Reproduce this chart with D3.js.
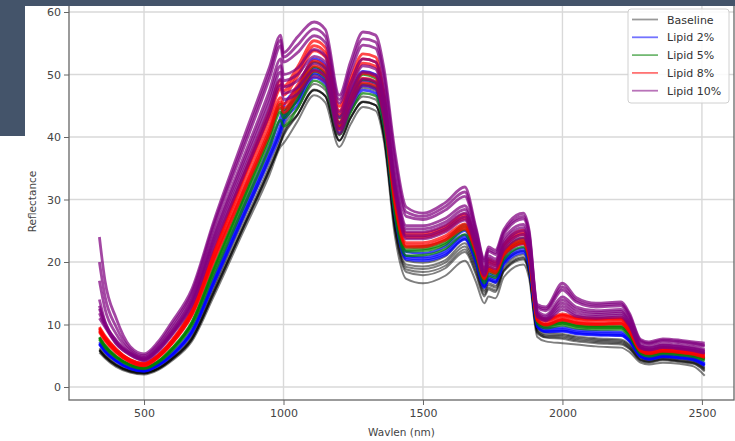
<!DOCTYPE html>
<html>
<head>
<meta charset="utf-8">
<script src="https://cdn.jsdelivr.net/npm/d3@7/dist/d3.min.js"></script>
<style>
  html, body { margin: 0; padding: 0; background: #ffffff; }
  svg { display: block; }
  text { font-family: "DejaVu Sans", sans-serif; }
</style>
</head>
<body>
<svg id="chart" width="735" height="441"></svg>
<script>
// Wavelength grid (nm) shared by every spectrum
const wavelengths = [
  340, 360, 400, 450, 500, 550, 600, 670, 750, 850,
  950, 990, 1000, 1050, 1110, 1150, 1200, 1240, 1285, 1330,
  1360, 1400, 1440, 1500, 1580, 1650, 1690, 1720, 1735, 1760,
  1790, 1860, 1880, 1910, 1940, 2000, 2050, 2120, 2210, 2240,
  2280, 2310, 2360, 2420, 2470, 2510
];

// Reflectance spectra, one array per sample
const baselineSpectra = [
  [5.5,4.6,3.2,2.3,2.0,2.7,4.2,7.2,14.5,24.3,
   34.0,38.5,39.0,42.5,46.7,45.5,38.4,42.0,44.8,44.2,
   39.3,24.0,17.3,16.6,17.8,20.2,16.8,13.4,14.5,14.2,
   17.6,19.6,17.5,8.0,7.3,7.0,6.8,6.5,6.3,5.6,
   3.9,3.6,3.9,3.7,3.3,1.8],
  [5.8,4.8,3.4,2.45,2.15,2.85,4.4,7.5,15.0,24.9,
   34.8,39.2,40.2,43.5,47.6,46.5,39.4,43.0,45.7,45.1,
   40.2,25.0,18.4,17.9,19.0,21.6,18.0,14.5,15.6,15.2,
   18.5,20.4,18.2,8.6,7.9,7.7,7.3,7.0,6.8,6.1,
   4.2,3.9,4.3,4.0,3.7,2.5],
  [5.85,4.85,3.45,2.5,2.2,2.9,4.45,7.55,15.1,24.95,
   34.8,39.2,40.4,43.5,47.5,46.5,39.4,43.0,45.6,45.1,
   40.2,25.2,18.8,18.4,19.4,22.0,18.4,14.8,15.9,15.5,
   18.6,20.6,18.4,8.8,8.0,7.9,7.5,7.2,7.0,6.2,
   4.3,4.0,4.4,4.1,3.8,2.7],
  [5.9,4.9,3.5,2.55,2.25,2.95,4.5,7.6,15.2,25.0,
   34.8,39.2,40.7,43.6,47.5,46.6,39.5,43.1,45.6,45.1,
   40.2,25.5,19.2,18.9,19.9,22.5,18.9,15.2,16.3,15.9,
   18.8,20.8,18.6,9.0,8.2,8.1,7.7,7.4,7.2,6.4,
   4.4,4.1,4.5,4.2,3.9,2.9],
  [6.0,5.0,3.6,2.6,2.3,3.0,4.6,7.8,15.5,25.5,
   35.5,40.0,41.5,44.5,48.5,47.5,40.3,44.0,46.5,46.0,
   41.0,26.0,19.6,19.3,20.3,23.0,19.3,15.5,16.6,16.2,
   19.2,21.2,19.0,9.2,8.4,8.3,7.9,7.6,7.4,6.6,
   4.6,4.2,4.6,4.3,4.0,3.0],
  [6.2,5.2,3.7,2.7,2.4,3.1,4.7,8.0,16.0,26.3,
   36.6,41.2,42.7,45.8,50.0,48.9,41.5,45.3,47.9,47.4,
   42.2,26.8,20.2,19.9,20.9,23.7,19.9,16.0,17.1,16.7,
   19.8,21.8,19.6,9.5,8.7,8.5,8.1,7.8,7.6,6.8,
   4.8,4.4,4.8,4.5,4.2,3.2]
];

const lipid2Spectra = [
  [6.8,5.6,4.1,2.9,2.5,3.4,5.0,8.5,16.5,26.5,
   36.4,40.7,42.2,45.1,49.5,48.5,40.7,44.4,47.5,47.0,
   42.0,27.2,20.4,20.2,21.1,23.6,19.9,15.9,17.1,16.7,
   19.6,21.5,19.4,9.6,8.8,8.9,8.5,8.3,8.2,7.3,
   4.8,4.4,4.8,4.6,4.3,3.4],
  [6.9,5.7,4.15,2.95,2.55,3.45,5.1,8.65,16.7,26.9,
   37.0,41.3,42.8,45.8,50.2,49.2,41.3,45.1,48.2,47.7,
   42.6,27.6,20.7,20.5,21.4,23.9,20.2,16.1,17.3,16.9,
   19.9,21.8,19.7,9.7,8.9,9.0,8.6,8.4,8.3,7.4,
   4.9,4.5,4.9,4.7,4.4,3.5],
  [7.0,5.8,4.2,3.0,2.6,3.5,5.2,8.8,17.0,27.3,
   37.5,42.0,43.5,46.5,51.0,50.0,42.0,45.8,49.0,48.5,
   43.3,28.0,21.0,20.8,21.8,24.3,20.5,16.4,17.6,17.2,
   20.2,22.2,20.0,9.9,9.1,9.2,8.8,8.6,8.5,7.5,
   5.0,4.6,5.0,4.8,4.5,3.6],
  [7.2,6.0,4.3,3.1,2.7,3.6,5.4,9.1,17.5,28.1,
   38.6,43.3,44.8,47.9,52.5,51.5,43.3,47.2,50.5,50.0,
   44.6,28.8,21.6,21.4,22.5,25.0,21.1,16.9,18.1,17.7,
   20.8,22.9,20.6,10.2,9.4,9.5,9.1,8.9,8.8,7.7,
   5.2,4.8,5.2,5.0,4.7,3.8]
];

const lipid5Spectra = [
  [7.6,6.3,4.7,3.4,2.9,3.9,5.8,9.7,18.0,28.1,
   38.3,42.7,41.7,44.6,49.0,48.0,40.4,43.9,47.0,46.6,
   41.7,27.4,21.0,21.1,22.1,24.4,20.7,16.6,17.8,17.5,
   20.4,22.4,20.2,10.1,9.4,9.9,9.4,9.2,9.2,8.0,
   5.3,4.9,5.3,5.1,4.8,4.2],
  [7.8,6.5,4.8,3.5,3.0,4.0,6.0,10.0,18.6,29.0,
   39.5,44.0,43.0,46.0,50.5,49.5,41.7,45.3,48.5,48.0,
   43.0,28.2,21.7,21.8,22.8,25.2,21.3,17.1,18.4,18.0,
   21.0,23.1,20.8,10.4,9.7,10.2,9.7,9.5,9.5,8.3,
   5.5,5.1,5.5,5.3,5.0,4.4],
  [7.9,6.6,4.85,3.55,3.05,4.05,6.1,10.15,18.9,29.4,
   40.1,44.6,43.6,46.7,51.2,50.2,42.3,46.0,49.2,48.7,
   43.6,28.6,22.0,22.1,23.1,25.6,21.6,17.3,18.7,18.2,
   21.3,23.4,21.1,10.5,9.8,10.3,9.8,9.6,9.6,8.4,
   5.6,5.2,5.6,5.4,5.1,4.5],
  [8.0,6.7,4.9,3.6,3.1,4.1,6.2,10.3,19.2,29.9,
   40.7,45.3,44.3,47.4,52.0,51.0,43.0,46.7,50.0,49.4,
   44.3,29.0,22.4,22.5,23.5,26.0,21.9,17.6,19.0,18.5,
   21.6,23.8,21.4,10.7,10.0,10.5,10.0,9.8,9.8,8.6,
   5.7,5.3,5.7,5.5,5.2,4.6]
];

const lipid8Spectra = [
  [8.8,7.4,5.5,4.0,3.4,4.7,6.9,11.3,20.1,30.4,
   40.6,44.9,43.9,46.8,50.6,49.7,41.1,45.2,48.7,48.2,
   43.2,29.1,22.4,22.4,23.5,25.3,21.5,17.3,18.6,18.2,
   21.1,22.9,20.7,10.6,9.9,10.7,10.2,10.0,10.1,8.8,
   5.7,5.3,5.7,5.5,5.2,4.7],
  [8.95,7.55,5.6,4.05,3.45,4.75,7.0,11.45,20.4,30.8,
   41.2,45.6,44.6,47.5,51.4,50.4,41.7,45.9,49.4,48.9,
   43.8,29.5,22.7,22.7,23.8,25.7,21.8,17.5,18.9,18.5,
   21.4,23.2,21.0,10.7,10.0,10.8,10.3,10.1,10.2,8.9,
   5.8,5.4,5.8,5.6,5.3,4.8],
  [9.1,7.7,5.7,4.1,3.5,4.8,7.1,11.6,20.7,31.3,
   41.9,46.3,45.3,48.3,52.2,51.2,42.4,46.6,50.2,49.7,
   44.5,30.0,23.1,23.1,24.2,26.1,22.2,17.8,19.2,18.8,
   21.7,23.6,21.4,10.9,10.2,11.0,10.5,10.3,10.4,9.1,
   5.9,5.5,5.9,5.7,5.4,4.9],
  [9.3,7.9,5.9,4.3,3.7,5.0,7.3,12.0,21.3,32.3,
   43.1,47.7,46.7,49.7,53.8,52.8,43.6,48.0,51.8,51.3,
   45.9,31.0,23.9,23.9,25.0,26.9,22.8,18.4,19.8,19.4,
   22.3,24.4,22.0,11.3,10.6,11.4,10.9,10.7,10.8,9.4,
   6.1,5.7,6.1,5.9,5.6,5.1],
  [9.45,8.05,6.0,4.35,3.75,5.05,7.4,12.15,21.6,32.7,
   43.7,48.4,47.4,50.4,54.6,53.5,44.2,48.7,52.5,52.0,
   46.5,31.4,24.2,24.2,25.3,27.3,23.1,18.6,20.1,19.7,
   22.6,24.7,22.3,11.4,10.7,11.5,11.0,10.8,10.9,9.5,
   6.2,5.8,6.2,6.0,5.7,5.2],
  [9.6,8.2,6.1,4.4,3.8,5.1,7.5,12.3,21.9,33.2,
   44.4,49.1,48.1,51.2,55.4,54.3,44.9,49.4,53.3,52.8,
   47.2,31.9,24.6,24.6,25.7,27.7,23.5,18.9,20.4,20.0,
   22.9,25.1,22.7,11.6,10.9,11.7,11.2,11.0,11.1,9.7,
   6.3,5.9,6.3,6.1,5.8,5.3]
];

const lipid10Spectra = [
  [11.0,9.6,6.9,5.1,4.2,5.7,8.3,12.9,22.5,33.1,
   43.7,48.3,46.0,46.9,49.7,48.8,40.5,44.6,48.3,47.8,
   43.2,30.8,23.7,23.7,24.8,26.7,22.1,17.8,19.3,18.9,
   21.9,23.9,21.6,11.2,10.6,12.4,11.3,11.0,11.2,9.8,
   6.2,5.9,6.3,6.1,5.8,5.4],
  [11.8,9.8,7.0,5.2,4.3,5.85,8.45,13.1,23.0,33.8,
   44.6,49.3,47.0,47.9,50.7,49.8,41.3,45.6,49.3,48.8,
   44.1,31.5,24.2,24.2,25.3,27.2,22.5,18.1,19.7,19.3,
   22.3,24.4,22.1,11.4,10.8,12.9,11.6,11.3,11.5,10.0,
   6.3,6.0,6.4,6.2,5.9,5.5],
  [12.5,10.1,7.2,5.3,4.4,6.0,8.6,13.4,23.5,34.6,
   45.6,50.4,48.0,49.0,51.8,50.9,42.2,46.6,50.4,49.9,
   45.1,32.2,24.8,24.8,25.9,27.8,23.0,18.5,20.2,19.7,
   22.8,25.0,22.6,11.7,11.0,13.4,12.0,11.6,11.8,10.3,
   6.5,6.2,6.6,6.4,6.1,5.7],
  [13.0,10.3,7.35,5.4,4.5,6.1,8.8,13.7,24.0,35.3,
   46.5,51.4,49.0,50.0,52.9,52.0,43.1,47.5,51.4,50.9,
   46.0,32.8,25.3,25.3,26.4,28.4,23.5,18.9,20.6,20.1,
   23.3,25.5,23.0,11.9,11.2,13.9,12.4,11.9,12.1,10.5,
   6.6,6.3,6.7,6.5,6.2,5.8],
  [14.0,10.5,7.5,5.5,4.6,6.2,9.0,14.0,24.5,36.0,
   47.5,52.5,50.0,51.0,54.0,53.0,44.0,48.5,52.5,52.0,
   47.0,33.5,25.8,25.8,27.0,29.0,24.0,19.3,21.0,20.5,
   23.8,26.0,23.5,12.2,11.5,14.4,12.8,12.2,12.4,10.8,
   6.8,6.5,6.9,6.7,6.4,6.0],
  [17.0,12.5,8.5,5.8,4.8,6.5,9.4,14.6,25.5,37.4,
   49.4,54.6,52.0,53.5,56.2,55.1,45.4,50.3,54.7,54.2,
   49.0,35.5,27.3,26.8,28.3,30.5,24.8,19.9,21.7,21.2,
   24.5,26.9,24.4,12.7,12.2,15.5,13.6,12.8,13.0,11.3,
   7.2,6.9,7.3,7.1,6.8,6.5],
  [20.0,14.5,9.6,6.1,5.0,6.8,9.9,15.0,26.0,38.2,
   50.3,55.5,52.8,54.7,57.3,56.1,46.0,51.1,55.7,55.2,
   50.0,36.5,28.0,27.3,28.9,31.2,25.1,20.2,22.0,21.5,
   24.8,27.3,24.8,12.9,12.5,16.0,13.9,13.1,13.3,11.5,
   7.4,7.0,7.5,7.3,7.0,6.7],
  [24.0,17.0,11.0,6.5,5.3,7.2,10.4,15.5,26.5,39.0,
   51.2,56.3,53.5,56.0,58.4,57.2,46.7,52.0,56.8,56.3,
   51.0,37.5,28.8,27.8,29.5,32.0,25.5,20.5,22.4,21.9,
   25.2,27.8,25.2,13.2,12.8,16.6,14.3,13.4,13.6,11.8,
   7.6,7.2,7.7,7.5,7.2,7.0]
];

const groupNames = ["Baseline", "Lipid 2%", "Lipid 5%", "Lipid 8%", "Lipid 10%"];
const groupColors = ["black", "blue", "green", "red", "purple"];
const groupSpectra = [baselineSpectra, lipid2Spectra, lipid5Spectra, lipid8Spectra, lipid10Spectra];

const xTicks = [500, 1000, 1500, 2000, 2500];
const yTicks = [0, 10, 20, 30, 40, 50, 60];

const svg = d3.select("#chart");
const plot = { left: 69, right: 734, top: 3, bottom: 400 };

const x = d3.scaleLinear().domain([231, 2615]).range([plot.left, plot.right]);
const y = d3.scaleLinear().domain([-2.08, 61.44]).range([plot.bottom, plot.top]);

// gridlines
const grid = svg.append("g");
grid.selectAll("line.gx").data(xTicks).join("line")
  .attr("x1", d => x(d)).attr("x2", d => x(d))
  .attr("y1", plot.top).attr("y2", plot.bottom)
  .attr("stroke", "#d9d9d9").attr("stroke-width", 1.4);
grid.selectAll("line.gy").data(yTicks).join("line")
  .attr("x1", plot.left).attr("x2", plot.right)
  .attr("y1", d => y(d)).attr("y2", d => y(d))
  .attr("stroke", "#d9d9d9").attr("stroke-width", 1.4);

// spectra
const line = d3.line()
  .x((d, i) => x(wavelengths[i]))
  .y(d => y(d))
  .curve(d3.curveMonotoneX);

svg.append("clipPath").attr("id", "plotclip")
  .append("rect").attr("x", plot.left).attr("y", plot.top)
  .attr("width", plot.right - plot.left).attr("height", plot.bottom - plot.top);

const lineOpacity = [0.5, 0.72, 0.72, 0.72, 0.72];
const lineWidth = [2.0, 2.6, 2.6, 2.8, 2.8];

const linesG = svg.append("g").attr("clip-path", "url(#plotclip)");
groupSpectra.forEach((spectra, gi) => {
  linesG.append("g").selectAll("path").data(spectra).join("path")
    .attr("d", line)
    .attr("fill", "none")
    .attr("stroke", groupColors[gi])
    .attr("stroke-opacity", lineOpacity[gi])
    .attr("stroke-width", lineWidth[gi])
    .attr("stroke-linejoin", "round");
});

// axes
const xAxis = svg.append("g").attr("transform", `translate(0,${plot.bottom})`)
  .call(d3.axisBottom(x).tickValues(xTicks).tickSize(5).tickPadding(4).tickFormat(d3.format("d")));
const yAxis = svg.append("g").attr("transform", `translate(${plot.left},0)`)
  .call(d3.axisLeft(y).tickValues(yTicks).tickSize(5).tickPadding(3).tickFormat(d3.format("d")));
[xAxis, yAxis].forEach(a => {
  a.select(".domain").remove();
  a.selectAll(".tick line").attr("stroke", "#666").attr("stroke-width", 1);
  a.selectAll(".tick text").attr("fill", "#444").style("font-size", "11px")
    .style("font-family", "DejaVu Sans, sans-serif");
});

// frame
svg.append("rect")
  .attr("x", plot.left).attr("y", plot.top)
  .attr("width", plot.right - plot.left).attr("height", plot.bottom - plot.top)
  .attr("fill", "none").attr("stroke", "#666").attr("stroke-width", 1.3);

// axis labels
svg.append("text")
  .attr("x", (plot.left + plot.right) / 2).attr("y", 436)
  .attr("text-anchor", "middle").attr("fill", "#444").style("font-size", "10.5px")
  .text("Wavlen (nm)");
svg.append("text")
  .attr("transform", `translate(36,${(plot.top + plot.bottom) / 2}) rotate(-90)`)
  .attr("text-anchor", "middle").attr("fill", "#444").style("font-size", "10.5px")
  .text("Reflectance");

// legend
const legend = svg.append("g");
legend.append("rect")
  .attr("x", 628).attr("y", 9).attr("width", 101).attr("height", 94)
  .attr("rx", 3).attr("fill", "#ffffff").attr("fill-opacity", 0.85)
  .attr("stroke", "#d0d0d0").attr("stroke-width", 1);
groupNames.forEach((name, i) => {
  const ly = 19.5 + i * 17.8;
  legend.append("line")
    .attr("x1", 632).attr("x2", 658).attr("y1", ly).attr("y2", ly)
    .attr("stroke", groupColors[i]).attr("stroke-opacity", i === 0 ? 0.4 : 0.55)
    .attr("stroke-width", 1.8);
  legend.append("text")
    .attr("x", 667).attr("y", ly + 4)
    .attr("fill", "#333").style("font-size", "11px")
    .text(name);
});

// surrounding slide background
svg.append("rect").attr("x", 0).attr("y", 0).attr("width", 735).attr("height", 6).attr("fill", "#44546a");
svg.append("rect").attr("x", 0).attr("y", 0).attr("width", 25).attr("height", 136).attr("fill", "#44546a");
</script>
</body>
</html>
